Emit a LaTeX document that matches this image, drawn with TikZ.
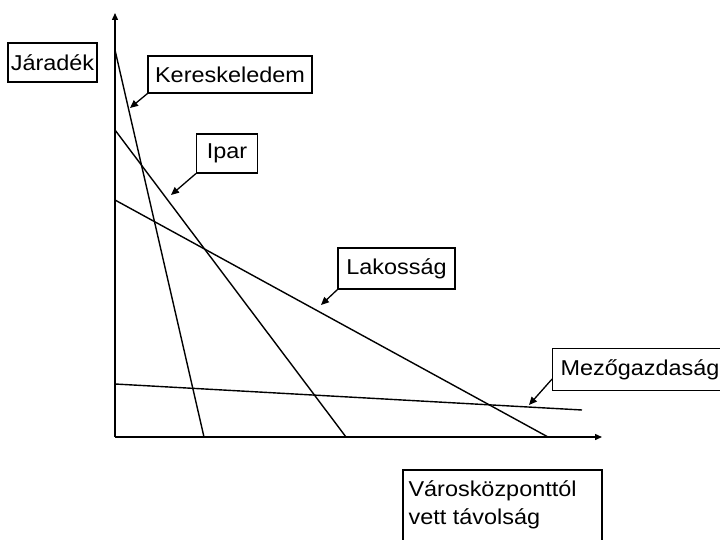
\documentclass[tikz,border=0pt]{standalone}
\usepackage{fontspec}
\setmainfont{Liberation Sans}[FakeStretch=1.09]
\usetikzlibrary{arrows.meta}
\begin{document}
\begin{tikzpicture}[x=1pt,y=-1pt,
  lbl/.style={draw,line width=1.1pt,inner sep=0pt,font=\fontsize{21.5}{28}\selectfont},
  ln/.style={line width=1.4pt},
  pt/.style={line width=1.3pt,-{Triangle[length=8pt,width=7pt]}},
  ax/.style={line width=1.4pt,-{Triangle[length=7pt,width=6pt]}}]
\useasboundingbox (0,0) rectangle (720,540);
% axes
\coordinate (o) at (115,437);
\coordinate (ytop) at (115,13);
\coordinate (xend) at (602,437);
\draw[ax] (o) -- (ytop);
\draw[ax] (o) -- (xend);
% curves
\coordinate (k1) at (115,50);  \coordinate (k2) at (204,437);
\coordinate (i1) at (115,130); \coordinate (i2) at (346,437);
\coordinate (l1) at (115,200); \coordinate (l2) at (548,437);
\coordinate (m1) at (115,384); \coordinate (m2) at (582,410);
\draw[ln] (k1) -- (k2);
\draw[ln] (i1) -- (i2);
\draw[ln] (l1) -- (l2);
\draw[ln] (m1) -- (m2);
% labels
\node[lbl,minimum width=89,minimum height=39] (jar) at (52.5,62.5) {Járadék};
\node[lbl,minimum width=164,minimum height=37] (ker) at (230,74.5) {Kereskeledem};
\node[lbl,minimum width=61,minimum height=39] (ipar) at (227,153.5) {Ipar};
\node[lbl,minimum width=117,minimum height=41] (lak) at (396.5,268.5) {Lakosság};
\node[lbl,minimum width=172,minimum height=42,anchor=north west,inner xsep=8pt] (mez) at (552,348) {Mezőgazdaság};
\draw[line width=1.1pt] (403,470) rectangle (602,560);
\node[lbl,draw=none,anchor=north west,align=left] (var) at (408,480) {Városközponttól\\vett távolság};
% pointers
\coordinate (kp) at (130,108);
\coordinate (ip) at (171,195);
\coordinate (lp) at (321,305);
\coordinate (mp) at (529,405);
\draw[pt] (ker.south west) -- (kp);
\draw[pt] (ipar.south west) -- (ip);
\draw[pt] (lak.south west) -- (lp);
\draw[pt] ([yshift=12pt]mez.south west) -- (mp);
\end{tikzpicture}
\end{document}
